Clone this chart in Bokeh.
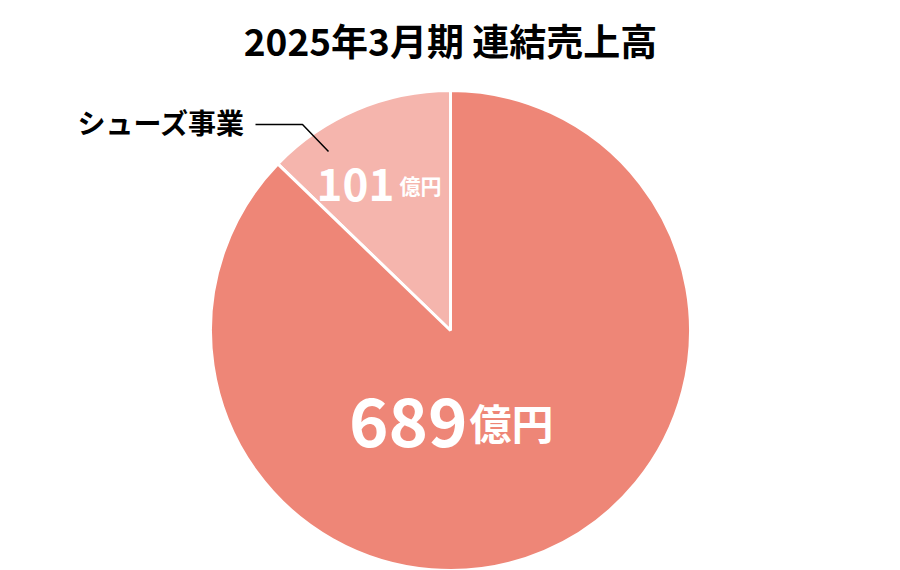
import numpy as np
from bokeh.plotting import figure
from bokeh.core.properties import value
from bokeh.embed import file_html
from bokeh.resources import INLINE

# data
title = "2025年3月期 連結売上高"
segments = ["シューズ事業", "その他"]
sales = [101, 689]
unit = "億円"
colors = ["#F5B5AD", "#EE8677"]

W, H = 900, 570
FONT = "Noto Sans CJK JP"

p = figure(width=W, height=H, x_range=(0, W), y_range=(0, H),
           output_backend="svg", toolbar_location=None, min_border=0)
p.axis.visible = False
p.grid.visible = False
p.outline_line_color = None
p.background_fill_color = "white"
p.border_fill_color = "white"

cx, cy, r = 450, 240, 240

# wedges start at 12 o'clock and go anticlockwise
total = sum(sales)
fracs = np.array(sales) / total
ends = np.pi / 2 + 2 * np.pi * np.cumsum(fracs)
starts = np.concatenate([[np.pi / 2], ends[:-1]])

for s, e, c in zip(starts, ends, colors):
    p.wedge(x=cx, y=cy, radius=r, start_angle=s, end_angle=e,
            fill_color=c, line_color="white", line_width=3)

# title
p.text(x=[W / 2], y=[531], text=[title], text_align="center",
       text_baseline="middle", text_font=value(FONT),
       text_font_style="bold", text_font_size="37px", text_color="black")

# value labels
label_pos = [(cx - 56, cy + 146, "44px", "21px", 5),
             (cx + 17, cy - 91, "67px", "42px", 2)]
for (x, y, fs, us, gap), v in zip(label_pos, sales):
    p.text(x=[x], y=[y], text=[str(v)], text_align="right",
           text_baseline="alphabetic", text_font=value(FONT),
           text_font_style="bold", text_font_size=fs, text_color="white")
    p.text(x=[x + gap], y=[y], text=[unit], text_align="left",
           text_baseline="alphabetic", text_font=value(FONT),
           text_font_style="bold", text_font_size=us, text_color="white")

# callout for the small slice
p.line(x=[cx - 195, cx - 148, cx - 122], y=[cy + 206, cy + 206, cy + 179],
       line_color="black", line_width=1.5)
p.text(x=[cx - 205], y=[cy + 209], text=[segments[0]], text_align="right",
       text_baseline="middle", text_font=value(FONT),
       text_font_style="bold", text_font_size="28px", text_color="black")

open("out.html", "w").write(file_html(p, INLINE))
